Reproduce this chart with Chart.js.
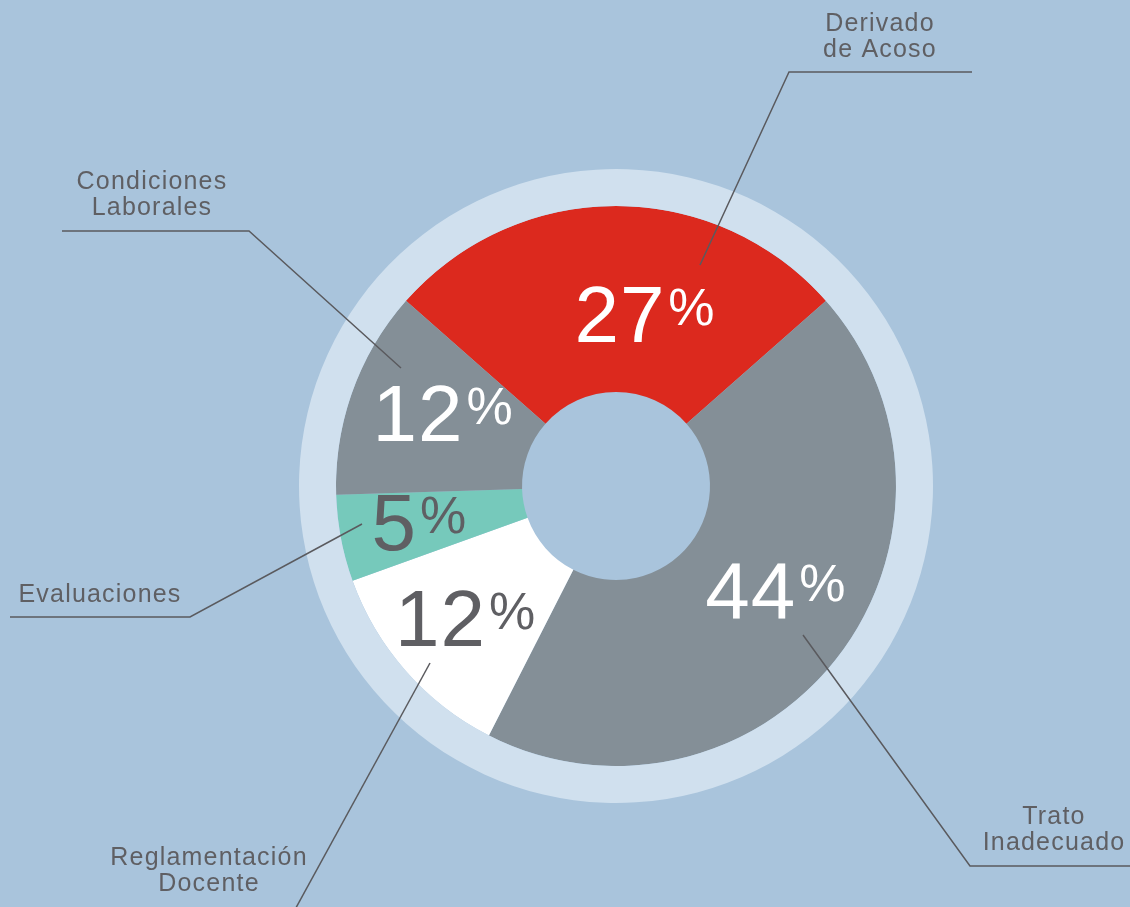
<!DOCTYPE html>
<html>
<head>
<meta charset="utf-8">
<script src="https://cdn.jsdelivr.net/npm/chart.js@4/dist/chart.umd.min.js"></script>
<style>
  html, body { margin: 0; padding: 0; background: #a9c4dc; overflow: hidden; }
  canvas { display: block; }
</style>
</head>
<body>
<canvas id="quejas" width="1130" height="907"></canvas>
<script>
// datos
const categories = ["Derivado de Acoso", "Trato Inadecuado", "Reglamentación Docente", "Evaluaciones", "Condiciones Laborales"];
const values = [27, 44, 12, 5, 12];
const sliceColors = ["#dc291e", "#848f97", "#ffffff", "#76c9bb", "#848f97"];
const pctColors = ["#ffffff", "#ffffff", "#5f5f63", "#5f5f63", "#ffffff"];
const nameLines = [["Derivado", "de Acoso"], ["Trato", "Inadecuado"], ["Reglamentación", "Docente"], ["Evaluaciones"], ["Condiciones", "Laborales"]];

// ajuste fino de los porcentajes (px)
const pctNudge = [[29, 14], [12, -12], [-10, 7], [-13, 0], [3, -11]];

// lineas guia, relativas al centro del circulo
const callouts = [
    { line: [[84, -221], [173, -414], [356, -414]], text: [264, -462] },
    { line: [[187, 149], [354, 380], [514, 380]], text: [438, 331] },
    { line: [[-186, 177], [-330, 440]], text: [-407, 372] },
    { line: [[-254, 38], [-426, 131], [-606, 131]], text: [-516, 109] },
    { line: [[-215, -118], [-367, -255], [-554, -255]], text: [-464, -304] }
];

const FONT = "'Liberation Sans', Arial, sans-serif";

const labelsPlugin = {
    id: "etiquetas",
    afterDatasetsDraw(chart) {
        const ctx = chart.ctx;
        const meta = chart.getDatasetMeta(1);
        const c = meta.data[0];
        const cx = c.x, cy = c.y;
        ctx.save();

        // porcentajes
        meta.data.forEach(function(arc, i) {
            const mid = (arc.startAngle + arc.endAngle) / 2;
            const r = (arc.innerRadius + arc.outerRadius) / 2;
            const x = cx + Math.cos(mid) * r + pctNudge[i][0];
            const y = cy + Math.sin(mid) * r + pctNudge[i][1];
            const num = String(values[i]);
            ctx.letterSpacing = "1px";
            ctx.font = "80px " + FONT;
            const w1 = ctx.measureText(num).width;
            ctx.font = "52px " + FONT;
            const w2 = ctx.measureText("%").width;
            const gap = 3;
            const start = x - (w1 + gap + w2) / 2;
            const base = y + 29;
            ctx.fillStyle = pctColors[i];
            ctx.textAlign = "left";
            ctx.textBaseline = "alphabetic";
            ctx.font = "80px " + FONT;
            ctx.fillText(num, start, base);
            ctx.font = "52px " + FONT;
            ctx.fillText("%", start + w1 + gap, base - 17);
        });

        // lineas y nombres
        ctx.strokeStyle = "#5a5a5e";
        ctx.lineWidth = 1.5;
        ctx.fillStyle = "#5f5f63";
        ctx.font = "25px " + FONT;
        ctx.letterSpacing = "1.2px";
        ctx.textAlign = "center";
        ctx.textBaseline = "middle";
        callouts.forEach(function(co, i) {
            ctx.beginPath();
            co.line.forEach(function(p, j) {
                if (j === 0) ctx.moveTo(cx + p[0], cy + p[1]);
                else ctx.lineTo(cx + p[0], cy + p[1]);
            });
            ctx.stroke();
            nameLines[i].forEach(function(t, k) {
                ctx.fillText(t, cx + co.text[0], cy + co.text[1] + k * 26);
            });
        });
        ctx.restore();
    }
};

new Chart(document.getElementById("quejas"), {
    type: "doughnut",
    data: {
        labels: categories,
        datasets: [
            {
                data: [1],
                backgroundColor: ["#d0e0ee"],
                borderWidth: 0,
                weight: 37
            },
            {
                data: values,
                backgroundColor: sliceColors,
                borderWidth: 0,
                weight: 186
            }
        ]
    },
    options: {
        responsive: false,
        animation: false,
        events: [],
        rotation: -48.6,
        cutout: "29.65%",
        layout: { padding: { left: 299, right: 197, top: 169, bottom: 104 } },
        plugins: {
            legend: { display: false },
            tooltip: { enabled: false }
        }
    },
    plugins: [labelsPlugin]
});
</script>
</body>
</html>
